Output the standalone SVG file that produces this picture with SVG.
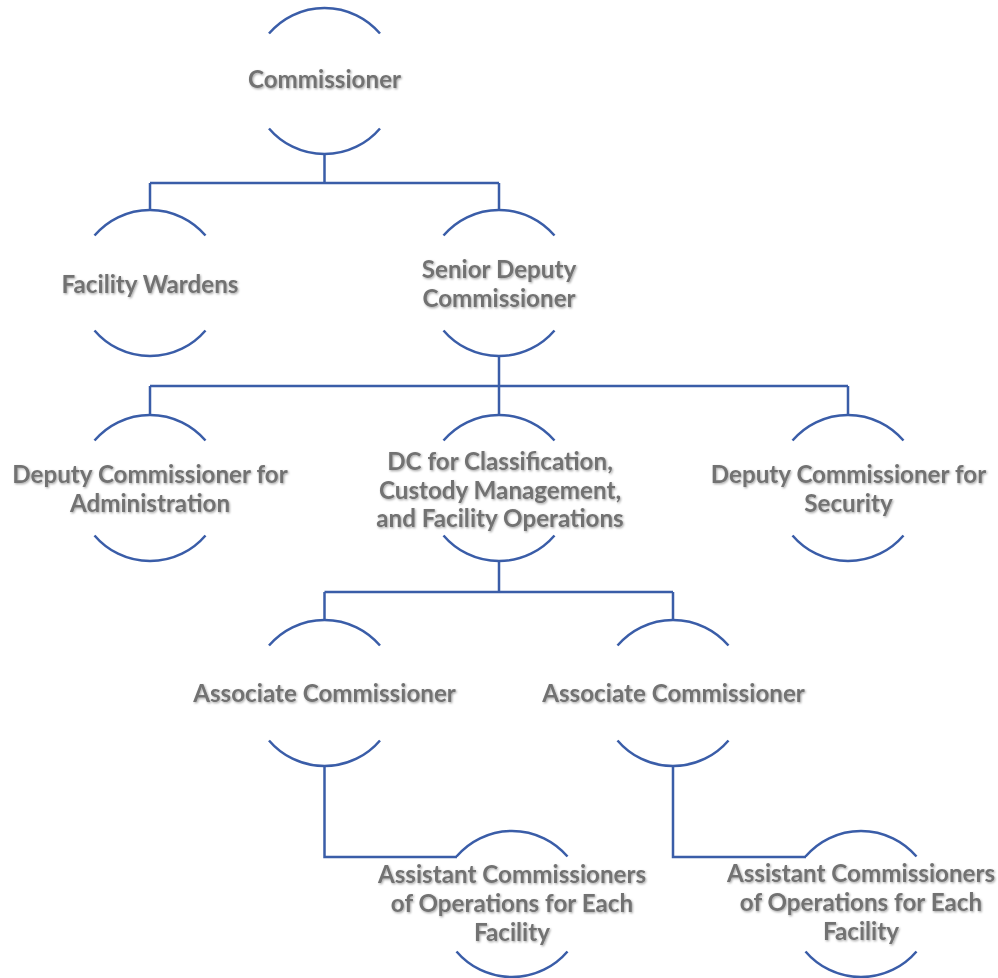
<svg xmlns="http://www.w3.org/2000/svg" width="998" height="978" viewBox="0 0 998 978">
<defs>
<filter id="sh" x="-10%" y="-30%" width="120%" height="160%">
<feDropShadow dx="1" dy="1.2" stdDeviation="0.9" flood-color="#000" flood-opacity="0.35"/>
</filter>
</defs>
<style>
.arc{fill:none;stroke:#3A5DA8;stroke-width:2.5}
.con{fill:none;stroke:#3A5DA8;stroke-width:2.5}
text{font-family:Lato,"Open Sans","Liberation Sans",sans-serif;font-weight:700;font-size:24.2px;fill:#727272;text-anchor:middle;filter:url(#sh)}
</style>
<rect width="998" height="978" fill="#fff"/>
<g id="connectors">
<path class="con" d="M324.5 154V183M150 183H499M150 183V210M499 183V210"/>
<path class="con" d="M499 356V386M150 386H848M150 386V415M499 386V415M848 386V415"/>
<path class="con" d="M499 561V592M324.5 592H673M324.5 592V620M673 592V620"/>
<path class="con" d="M324.5 766V857H457"/>
<path class="con" d="M673 766V857H806"/>
</g>
<g id="commissioner">
<path class="arc" d="M269 33.5A73 73 0 0 1 380 33.5M269 128.5A73 73 0 0 0 380 128.5"/>
<text x="324.5" y="88">Commissioner</text>
</g>
<g id="facility-wardens">
<path class="arc" d="M94.5 235.5A73 73 0 0 1 205.5 235.5M94.5 330.5A73 73 0 0 0 205.5 330.5"/>
<text x="150" y="293">Facility Wardens</text>
</g>
<g id="senior-deputy">
<path class="arc" d="M443.5 235.5A73 73 0 0 1 554.5 235.5M443.5 330.5A73 73 0 0 0 554.5 330.5"/>
<text x="499" y="278">Senior Deputy</text>
<text x="499" y="307">Commissioner</text>
</g>
<g id="dc-administration">
<path class="arc" d="M94.5 440.5A73 73 0 0 1 205.5 440.5M94.5 535.5A73 73 0 0 0 205.5 535.5"/>
<text x="150" y="483">Deputy Commissioner for</text>
<text x="150" y="512">Administration</text>
</g>
<g id="dc-classification">
<path class="arc" d="M443.5 440.5A73 73 0 0 1 554.5 440.5M443.5 535.5A73 73 0 0 0 554.5 535.5"/>
<text x="500" y="470">DC for Classification,</text>
<text x="500" y="499">Custody Management,</text>
<text x="500" y="527">and Facility Operations</text>
</g>
<g id="dc-security">
<path class="arc" d="M792.5 440.5A73 73 0 0 1 903.5 440.5M792.5 535.5A73 73 0 0 0 903.5 535.5"/>
<text x="848.5" y="483">Deputy Commissioner for</text>
<text x="848.5" y="512">Security</text>
</g>
<g id="associate-left">
<path class="arc" d="M269 645.5A73 73 0 0 1 380 645.5M269 740.5A73 73 0 0 0 380 740.5"/>
<text x="324.5" y="702">Associate Commissioner</text>
</g>
<g id="associate-right">
<path class="arc" d="M617.5 645.5A73 73 0 0 1 728.5 645.5M617.5 740.5A73 73 0 0 0 728.5 740.5"/>
<text x="673.5" y="702">Associate Commissioner</text>
</g>
<g id="assistant-left">
<path class="arc" d="M456.5 856.5A73 73 0 0 1 567.5 856.5M456.5 951.5A73 73 0 0 0 567.5 951.5"/>
<text x="512" y="883">Assistant Commissioners</text>
<text x="512" y="912">of Operations for Each</text>
<text x="512" y="941">Facility</text>
</g>
<g id="assistant-right">
<path class="arc" d="M805.5 856.5A73 73 0 0 1 916.5 856.5M805.5 951.5A73 73 0 0 0 916.5 951.5"/>
<text x="861" y="882">Assistant Commissioners</text>
<text x="861" y="911">of Operations for Each</text>
<text x="861" y="940">Facility</text>
</g>
</svg>
